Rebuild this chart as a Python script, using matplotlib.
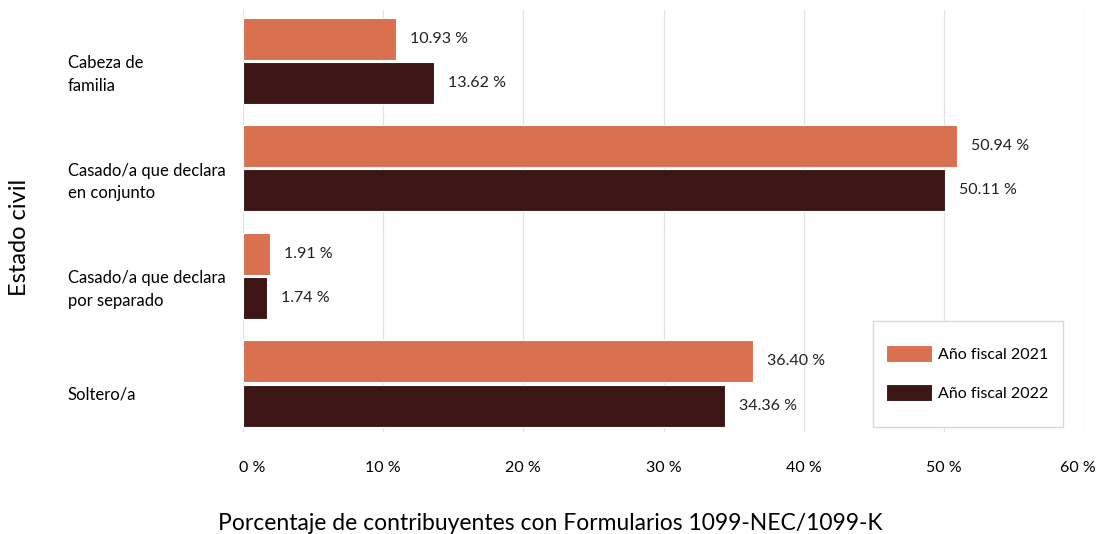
import numpy as np
import matplotlib.pyplot as plt
from matplotlib.ticker import FuncFormatter
from matplotlib.transforms import ScaledTranslation
from matplotlib.patches import Rectangle

plt.rcParams['font.family'] = ['Lato', 'DejaVu Sans']

# datos
categorias = ['Cabeza de\nfamilia', 'Casado/a que declara\nen conjunto',
              'Casado/a que declara\npor separado', 'Soltero/a']
anio_2021 = [10.93, 50.94, 1.91, 36.40]
anio_2022 = [13.62, 50.11, 1.74, 34.36]
series = ['Año fiscal 2021', 'Año fiscal 2022']
colores = ['#D9704F', '#3C1515']

W, H = 1099, 534
fig = plt.figure(figsize=(W / 100, H / 100), dpi=100)
ax = fig.add_axes([243 / W, 1 - 432 / H, (1084 - 243) / W, (432 - 10) / H])

y = np.arange(len(categorias))
h = 0.39
b1 = ax.barh(y - h / 2 - 0.01, anio_2021, height=h, color=colores[0],
             edgecolor='white', linewidth=0.8, label=series[0])
b2 = ax.barh(y + h / 2 + 0.01, anio_2022, height=h, color=colores[1],
             edgecolor='white', linewidth=0.8, label=series[1])

for barras, vals in [(b1, anio_2021), (b2, anio_2022)]:
    for r, v in zip(barras, vals):
        ax.annotate(f'{v:.2f} %', (v, r.get_y() + r.get_height() / 2),
                    xytext=(10, 0), textcoords='offset points',
                    va='center', ha='left', fontsize=11.5, color='#222222')

ax.set_xlim(0, 60)
ax.set_ylim(3.45, -0.47)
ax.set_xticks(np.arange(0, 61, 10))
ax.xaxis.set_major_formatter(FuncFormatter(lambda v, p: f'{v:.0f} %'))
ax.set_yticks(y)
ax.set_yticklabels(categorias, ha='left', linespacing=1.5)
ax.tick_params(axis='y', length=0, pad=126, labelsize=12)
ax.tick_params(axis='x', length=0, pad=21, labelsize=11.5)
ax.grid(axis='x', color='#E3E3E3', linewidth=0.9)
ax.set_axisbelow(True)
for s in ax.spines.values():
    s.set_visible(False)

# etiquetas un poco mas abajo que el centro del grupo
baja = ScaledTranslation(0, -9 / 100, fig.dpi_scale_trans)
for lbl in ax.get_yticklabels():
    lbl.set_transform(lbl.get_transform() + baja)

# primera y ultima etiqueta del eje x como en el original
xlbls = ax.get_xticklabels()
xlbls[0].set_transform(xlbls[0].get_transform() + ScaledTranslation(9 / 100, 0, fig.dpi_scale_trans))
xlbls[-1].set_transform(xlbls[-1].get_transform() + ScaledTranslation(-6 / 100, 0, fig.dpi_scale_trans))

fig.text(550 / W, 1 - 523 / H,
         'Porcentaje de contribuyentes con Formularios 1099-NEC/1099-K',
         fontsize=16.5, ha='center', va='center')
fig.text(20 / W, 1 - 237 / H, 'Estado civil', rotation=90,
         fontsize=17, ha='center', va='center')

# leyenda con marco dibujado aparte
fig.patches.append(Rectangle((873 / W, 1 - 427 / H), 190 / W, 106 / H,
                             transform=fig.transFigure, facecolor='white',
                             edgecolor='#D9D9D9', linewidth=1.0, zorder=3))
leg = fig.legend(handles=[b1, b2], labels=series, loc='upper left',
                 bbox_to_anchor=(886 / W, 1 - 345 / H), bbox_transform=fig.transFigure,
                 fontsize=11.5, frameon=False, handlelength=2.9, handleheight=1.25,
                 labelspacing=1.4, borderpad=0, handletextpad=0.35, borderaxespad=0)
leg.set_zorder(4)

fig.savefig('out.png', dpi=100)
